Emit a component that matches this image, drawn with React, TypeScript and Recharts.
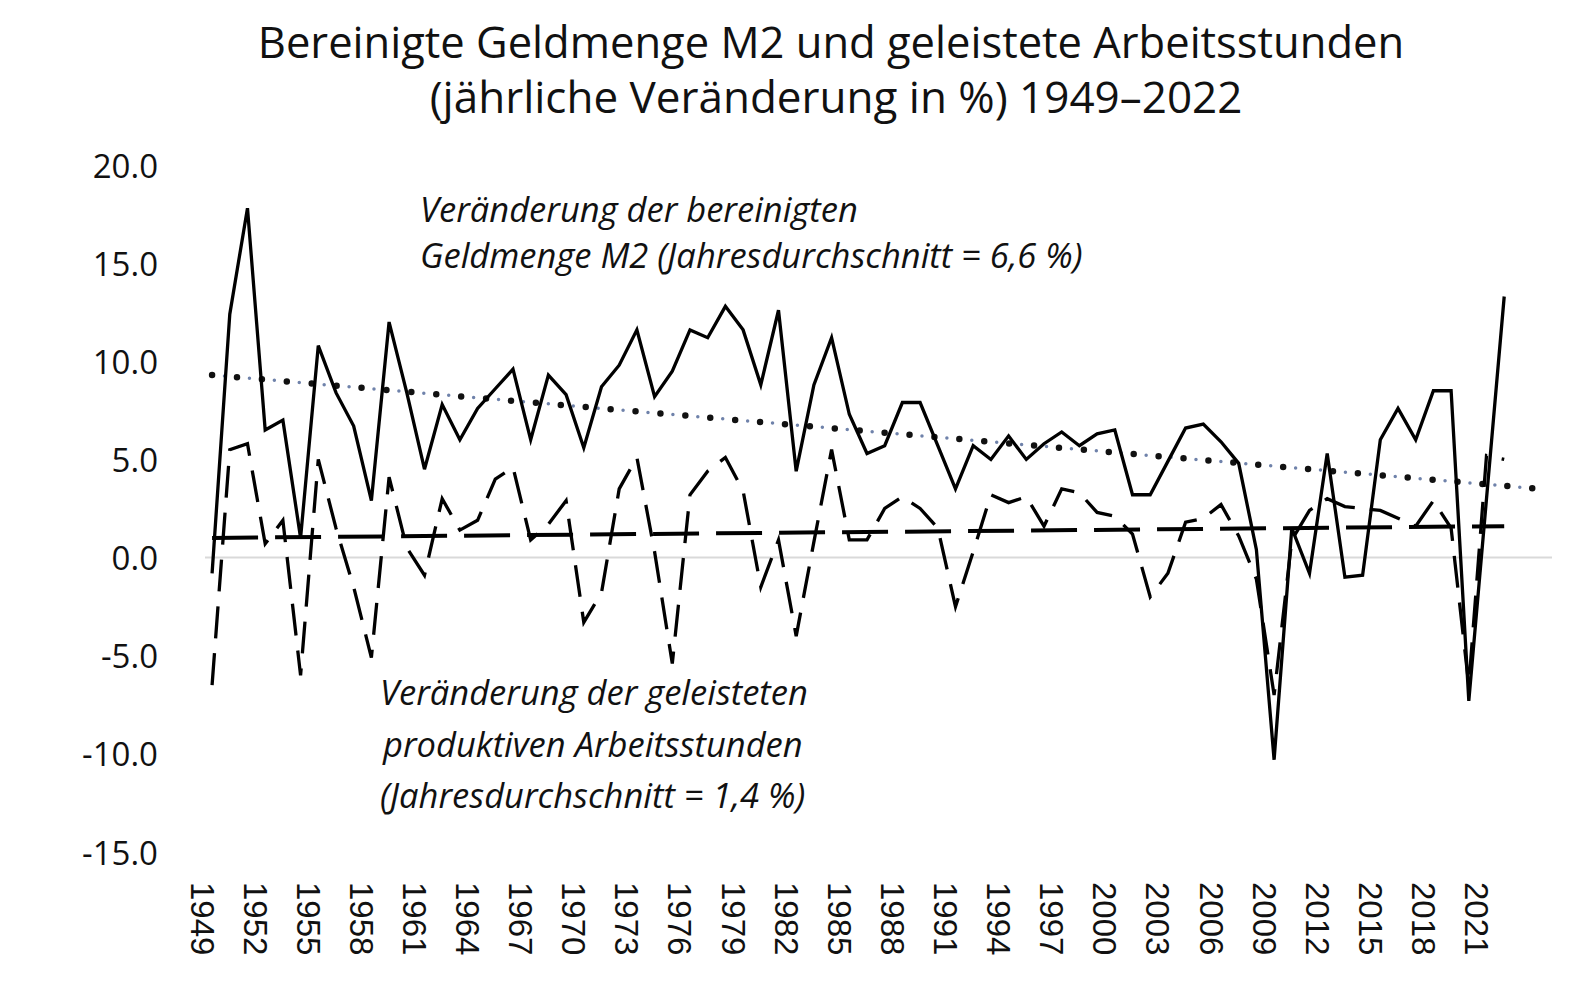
import React from 'react';
import { LineChart, Line, XAxis, YAxis, ReferenceLine } from 'recharts';

const years = [
  1949, 1950, 1951, 1952, 1953, 1954, 1955, 1956, 1957, 1958,
  1959, 1960, 1961, 1962, 1963, 1964, 1965, 1966, 1967, 1968,
  1969, 1970, 1971, 1972, 1973, 1974, 1975, 1976, 1977, 1978,
  1979, 1980, 1981, 1982, 1983, 1984, 1985, 1986, 1987, 1988,
  1989, 1990, 1991, 1992, 1993, 1994, 1995, 1996, 1997, 1998,
  1999, 2000, 2001, 2002, 2003, 2004, 2005, 2006, 2007, 2008,
  2009, 2010, 2011, 2012, 2013, 2014, 2015, 2016, 2017, 2018,
  2019, 2020, 2021, 2022,
];

// Veränderung der bereinigten Geldmenge M2 (%)
const m2Growth = [
  -0.8, 12.4, 17.8, 6.5, 7.0, 1.0, 10.8, 8.4, 6.7, 2.9,
  12.0, 8.4, 4.5, 7.8, 6.0, 7.6, 8.6, 9.6, 6.0, 9.3,
  8.3, 5.6, 8.7, 9.8, 11.6, 8.2, 9.5, 11.6, 11.2, 12.8,
  11.6, 8.8, 12.6, 4.4, 8.8, 11.2, 7.3, 5.3, 5.7, 7.9,
  7.9, 5.7, 3.5, 5.7, 5.0, 6.2, 5.0, 5.8, 6.4, 5.7,
  6.3, 6.5, 3.2, 3.2, 4.9, 6.6, 6.8, 5.9, 4.8, 0.4,
  -10.3, 1.5, -0.8, 5.3, -1.0, -0.9, 6.0, 7.6, 6.0, 8.5,
  8.5, -7.3, 3.0, 13.3,
];

// Veränderung der geleisteten produktiven Arbeitsstunden (%)
const hoursGrowth = [
  -6.5, 5.5, 5.8, 0.7, 1.9, -6.0, 5.0, 1.5, -1.5, -5.1,
  4.1, 0.5, -0.9, 3.0, 1.4, 1.9, 4.0, 4.6, 0.9, 1.7,
  2.9, -3.3, -1.8, 3.5, 5.1, 0.3, -5.4, 3.2, 4.4, 5.1,
  3.4, -1.5, 0.9, -4.0, 0.8, 5.5, 0.9, 0.9, 2.5, 3.1,
  2.5, 1.5, -2.5, 0.3, 3.2, 2.8, 3.1, 1.6, 3.5, 3.3,
  2.3, 2.1, 1.2, -2.0, -0.8, 1.8, 2.0, 2.7, 1.1, -1.1,
  -7.0, 0.9, 2.4, 3.0, 2.6, 2.5, 2.4, 2.0, 1.6, 2.9,
  1.5, -6.5, 5.2, 5.0,
];

// Linear trend of M2 growth (dotted)
const m2TrendYears = [1949, 2024];
const m2TrendValues = [9.3, 3.5];

// Linear trend of hours growth (long dashes)
const hoursTrendYears = [1949, 2022];
const hoursTrendValues = [1.0, 1.6];

const xTicks = [
  1949, 1952, 1955, 1958, 1961, 1964, 1967, 1970, 1973, 1976, 1979, 1982, 1985,
  1988, 1991, 1994, 1997, 2000, 2003, 2006, 2009, 2012, 2015, 2018, 2021,
];
const yTicks = [-15, -10, -5, 0, 5, 10, 15, 20];

const seriesData = years.map((year, i) => ({ year, m2: m2Growth[i], hours: hoursGrowth[i] }));
const m2TrendData = m2TrendYears.map((year, i) => ({ year, v: m2TrendValues[i] }));
const hoursTrendData = hoursTrendYears.map((year, i) => ({ year, v: hoursTrendValues[i] }));

const SANS = '"Open Sans", "Noto Sans", sans-serif';

const XTick = (props: any) => {
  const { x, y, payload } = props;
  return (
    <text
      transform={`translate(${x - 10},${y + 22}) rotate(90)`}
      textAnchor="start"
      dominantBaseline="central"
      fontFamily='"Liberation Sans", Arial, sans-serif'
      fontSize={33}
      fill="#111"
    >
      {payload.value}
    </text>
  );
};

const YTick = (props: any) => {
  const { x, y, payload } = props;
  return (
    <text
      x={x - 39}
      y={y}
      textAnchor="end"
      dominantBaseline="central"
      fontFamily={SANS}
      fontSize={33}
      fill="#111"
    >
      {Number(payload.value).toFixed(1)}
    </text>
  );
};

export default function App() {
  return (
    <div style={{ position: 'absolute', left: 0, top: 0, width: 1581, height: 995, background: '#fff' }}>
      <LineChart width={1581} height={995} margin={{ top: 165, right: 29, bottom: 43, left: 0 }}>
        <XAxis
          type="number"
          dataKey="year"
          domain={[1948.6, 2024.7]}
          allowDataOverflow
          ticks={xTicks}
          interval={0}
          axisLine={false}
          tickLine={false}
          height={100}
          tick={(p: any) => <XTick {...p} />}
        />
        <YAxis
          type="number"
          domain={[-15, 20]}
          ticks={yTicks}
          interval={0}
          axisLine={false}
          tickLine={false}
          width={205}
          tick={(p: any) => <YTick {...p} />}
        />
        <ReferenceLine y={0} stroke="#d9d9d9" strokeWidth={2} />
        <Line
          data={m2TrendData}
          dataKey="v"
          stroke="#6f82aa"
          strokeWidth={3.5}
          strokeDasharray="0 12.5"
          strokeLinecap="round"
          dot={false}
          activeDot={false}
          isAnimationActive={false}
        />
        <Line
          data={m2TrendData}
          dataKey="v"
          stroke="#111"
          strokeWidth={6.5}
          strokeDasharray="0 25"
          strokeLinecap="round"
          dot={false}
          activeDot={false}
          isAnimationActive={false}
        />
        <Line
          data={seriesData}
          dataKey="hours"
          stroke="#000"
          strokeWidth={3.3}
          strokeDasharray="32 15"
          dot={false}
          activeDot={false}
          isAnimationActive={false}
        />
        <Line
          data={hoursTrendData}
          dataKey="v"
          stroke="#000"
          strokeWidth={4}
          strokeDasharray="46 17"
          dot={false}
          activeDot={false}
          isAnimationActive={false}
        />
        <Line
          data={seriesData}
          dataKey="m2"
          stroke="#000"
          strokeWidth={3.3}
          dot={false}
          activeDot={false}
          isAnimationActive={false}
        />
      </LineChart>
      <svg
        width={1581}
        height={995}
        style={{ position: 'absolute', left: 0, top: 0, pointerEvents: 'none' }}
      >
        <g fontFamily={SANS} fill="#111">
          <text x={831} y={58} textAnchor="middle" fontSize={43.5}>
            Bereinigte Geldmenge M2 und geleistete Arbeitsstunden
          </text>
          <text x={836} y={113} textAnchor="middle" fontSize={44}>
            (jährliche Veränderung in %) 1949–2022
          </text>
          <g fontStyle="italic" fontSize={34.5}>
            <text x={420} y={222}>Veränderung der bereinigten</text>
            <text x={420} y={268}>Geldmenge M2 (Jahresdurchschnitt = 6,6 %)</text>
            <text x={380} y={705}>Veränderung der geleisteten</text>
            <text x={383} y={757}>produktiven Arbeitsstunden</text>
            <text x={380} y={808}>(Jahresdurchschnitt = 1,4 %)</text>
          </g>
        </g>
      </svg>
    </div>
  );
}
